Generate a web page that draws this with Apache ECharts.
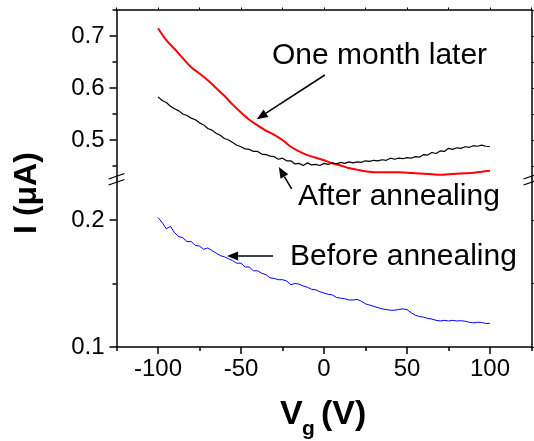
<!DOCTYPE html>
<html>
<head>
<meta charset="utf-8">
<script src="https://cdn.jsdelivr.net/npm/echarts@6/dist/echarts.min.js"></script>
<style>
  html, body { margin: 0; padding: 0; background: #fff; }
  #chart { width: 534px; height: 441px; }
</style>
</head>
<body>
<div id="chart"></div>
<script>
// gate voltage, V (step 2.5 for the noisy traces)
const vg = [-100, -97.5, -95, -92.5, -90, -87.5, -85, -82.5, -80, -77.5, -75, -72.5, -70, -67.5, -65, -62.5,
  -60, -57.5, -55, -52.5, -50, -47.5, -45, -42.5, -40, -37.5, -35, -32.5, -30, -27.5, -25, -22.5,
  -20, -17.5, -15, -12.5, -10, -7.5, -5, -2.5, 0, 2.5, 5, 7.5, 10, 12.5, 15, 17.5,
  20, 22.5, 25, 27.5, 30, 32.5, 35, 37.5, 40, 42.5, 45, 47.5, 50, 52.5, 55, 57.5,
  60, 62.5, 65, 67.5, 70, 72.5, 75, 77.5, 80, 82.5, 85, 87.5, 90, 92.5, 95, 97.5, 100]
// step 5 for the smooth red trace
const vgRed = [-100, -95, -90, -85, -80, -75, -70, -65, -60, -55, -50, -45, -40, -35, -30, -25,
  -20, -15, -10, -5, 0, 5, 10, 15, 20, 25, 30, 35, 40, 45, 50, 55, 60, 65, 70, 75, 80, 85, 90, 95, 100]

// current, uA
const oneMonthLater = [0.715, 0.692, 0.675, 0.657, 0.640, 0.628, 0.615, 0.600, 0.585, 0.568, 0.553, 0.539,
  0.528, 0.518, 0.510, 0.500, 0.487, 0.478, 0.471, 0.466, 0.461, 0.455, 0.451, 0.446, 0.443, 0.440,
  0.438, 0.438, 0.438, 0.438, 0.437, 0.436, 0.435, 0.434, 0.433, 0.434, 0.435, 0.436, 0.437, 0.439, 0.441]

const afterAnnealing = [0.583, 0.576, 0.572, 0.565, 0.560, 0.556, 0.550, 0.547, 0.542, 0.539, 0.533, 0.529,
  0.522, 0.519, 0.513, 0.509, 0.503, 0.500, 0.495, 0.490, 0.487, 0.483, 0.482, 0.478, 0.478, 0.473,
  0.472, 0.469, 0.468, 0.463, 0.465, 0.460, 0.460, 0.454, 0.455, 0.451, 0.456, 0.452, 0.453, 0.451,
  0.455, 0.453, 0.456, 0.454, 0.457, 0.455, 0.458, 0.456, 0.458, 0.457, 0.460, 0.459, 0.461, 0.460,
  0.462, 0.461, 0.465, 0.463, 0.465, 0.464, 0.466, 0.465, 0.468, 0.467, 0.472, 0.471, 0.476, 0.474,
  0.479, 0.478, 0.484, 0.482, 0.485, 0.484, 0.487, 0.486, 0.489, 0.488, 0.490, 0.488, 0.487]

const beforeAnnealing = [0.202, 0.198, 0.193, 0.195, 0.190, 0.187, 0.186, 0.183, 0.183, 0.180, 0.1795, 0.177,
  0.178, 0.176, 0.174, 0.172, 0.171, 0.1695, 0.168, 0.166, 0.166, 0.163, 0.163, 0.160, 0.160, 0.158,
  0.157, 0.1545, 0.154, 0.153, 0.153, 0.152, 0.149, 0.150, 0.1495, 0.148, 0.147, 0.1455, 0.145, 0.1435,
  0.1425, 0.1415, 0.141, 0.139, 0.1385, 0.138, 0.137, 0.137, 0.1375, 0.136, 0.134, 0.133, 0.132, 0.131,
  0.130, 0.1295, 0.129, 0.129, 0.1295, 0.130, 0.1295, 0.127, 0.125, 0.124, 0.1235, 0.1225, 0.122, 0.121,
  0.1205, 0.121, 0.1205, 0.121, 0.1205, 0.1207, 0.1203, 0.1195, 0.119, 0.1195, 0.1193, 0.1185, 0.1187]

// tick positions
const xMajor = [-100, -50, 0, 50, 100]
const xMinor = [-125, -75, -25, 25, 75, 125]
const xTop = [-125, -100, -75, -50, -25, 0, 25, 50, 75, 100, 125]
const yUpMajor = [0.5, 0.6, 0.7]
const yUpMinor = [0.45, 0.55, 0.65, 0.75]
const yLowMajor = [0.1, 0.2]
const yLowMinor = [0.15]

// annotation arrows in data coords: [from, to], series used for the coordinate system
const arrows = [
  { series: 0, from: [0.5, 0.625], to: [-40.5, 0.540] },
  { series: 0, from: [-19.5, 0.406], to: [-27.2, 0.448] },
  { series: 2, from: [-30.7, 0.1717], to: [-58.4, 0.1717] }
]

const FONT = "'Liberation Sans', Arial, sans-serif"
const upMin = 0.425, upMax = 0.75
const lowMin = 0.1, lowMax = 0.2323

const chart = echarts.init(document.getElementById('chart'))

const lineStyle = { color: '#000', width: 1.5 }

function axisBase(type, grid, pos, min, max) {
  return {
    type: 'value', gridIndex: grid, position: pos, min: min, max: max,
    splitLine: { show: false },
    axisLine: { show: true, onZero: false, lineStyle: lineStyle },
    axisTick: { show: false },
    axisLabel: { show: false }
  }
}

const option = {
  animation: false,
  backgroundColor: '#fff',
  grid: [
    { left: 116.5, right: 2.5, top: 10, height: 169 },
    { left: 116.5, right: 2.5, top: 179, height: 168 }
  ],
  xAxis: [
    Object.assign(axisBase('x', 1, 'bottom', -125, 125), {
      axisTick: { show: true, customValues: xMajor, length: 7, lineStyle: lineStyle },
      axisLabel: { show: true, customValues: xMajor, fontSize: 24, color: '#000', fontFamily: FONT, margin: 10 }
    }),
    Object.assign(axisBase('x', 1, 'bottom', -125, 125), {
      axisLine: { show: false, onZero: false },
      axisTick: { show: true, customValues: xMinor, length: 4, lineStyle: lineStyle }
    }),
    Object.assign(axisBase('x', 0, 'top', -125, 125), {
      axisTick: { show: true, customValues: xTop, length: 2.5, lineStyle: { color: '#000', width: 1 } }
    })
  ],
  yAxis: [
    Object.assign(axisBase('y', 0, 'left', upMin, upMax), {
      axisTick: { show: true, customValues: yUpMajor, length: 7, lineStyle: lineStyle },
      axisLabel: { show: true, customValues: yUpMajor, fontSize: 24, color: '#000', fontFamily: FONT, margin: 12,
        formatter: v => v.toFixed(1) }
    }),
    Object.assign(axisBase('y', 0, 'left', upMin, upMax), {
      axisLine: { show: false, onZero: false },
      axisTick: { show: true, customValues: yUpMinor, length: 4, lineStyle: lineStyle }
    }),
    Object.assign(axisBase('y', 0, 'right', upMin, upMax), {
      axisTick: { show: true, customValues: yUpMajor.concat(yUpMinor), length: 3, lineStyle: { color: '#000', width: 1 } }
    }),
    Object.assign(axisBase('y', 1, 'left', lowMin, lowMax), {
      axisTick: { show: true, customValues: yLowMajor, length: 7, lineStyle: lineStyle },
      axisLabel: { show: true, customValues: yLowMajor, fontSize: 24, color: '#000', fontFamily: FONT, margin: 12,
        formatter: v => v.toFixed(1) }
    }),
    Object.assign(axisBase('y', 1, 'left', lowMin, lowMax), {
      axisLine: { show: false, onZero: false },
      axisTick: { show: true, customValues: yLowMinor, length: 4, lineStyle: lineStyle }
    }),
    Object.assign(axisBase('y', 1, 'right', lowMin, lowMax), {
      axisTick: { show: true, customValues: yLowMajor.concat(yLowMinor), length: 3, lineStyle: { color: '#000', width: 1 } }
    })
  ],
  series: [
    {
      name: 'One month later', type: 'line', xAxisIndex: 2, yAxisIndex: 0,
      data: vgRed.map((x, i) => [x, oneMonthLater[i]]),
      showSymbol: false, smooth: 0.3,
      lineStyle: { color: '#ff0000', width: 2 }
    },
    {
      name: 'After annealing', type: 'line', xAxisIndex: 2, yAxisIndex: 0,
      data: vg.map((x, i) => [x, afterAnnealing[i]]),
      showSymbol: false,
      lineStyle: { color: '#000000', width: 1.2 }
    },
    {
      name: 'Before annealing', type: 'line', xAxisIndex: 0, yAxisIndex: 3,
      data: vg.map((x, i) => [x, beforeAnnealing[i]]),
      showSymbol: false,
      lineStyle: { color: '#0000ff', width: 1 }
    }
  ]
}

chart.setOption(option)

// texts, axis titles, axis break marks and arrows
const graphic = [
  { type: 'text', x: 27, y: 193, rotation: Math.PI / 2,
    style: { text: 'I (μA)', fontSize: 32, fontWeight: 'bold', fontFamily: FONT, fill: '#000', align: 'center', verticalAlign: 'middle' } },
  { type: 'text', x: 280, y: 415,
    style: { text: 'V', fontSize: 34, fontWeight: 'bold', fontFamily: FONT, fill: '#000', align: 'left', verticalAlign: 'middle' } },
  { type: 'text', x: 302, y: 429,
    style: { text: 'g', fontSize: 21, fontWeight: 'bold', fontFamily: FONT, fill: '#000', align: 'left', verticalAlign: 'middle' } },
  { type: 'text', x: 321, y: 415,
    style: { text: '(V)', fontSize: 34, fontWeight: 'bold', fontFamily: FONT, fill: '#000', align: 'left', verticalAlign: 'middle' } },
  { type: 'text', x: 272, y: 56,
    style: { text: 'One month later', fontSize: 30, fontFamily: FONT, fill: '#000', align: 'left', verticalAlign: 'middle' } },
  { type: 'text', x: 298, y: 197,
    style: { text: 'After annealing', fontSize: 30, fontFamily: FONT, fill: '#000', align: 'left', verticalAlign: 'middle' } },
  { type: 'text', x: 290, y: 257,
    style: { text: 'Before annealing', fontSize: 30, fontFamily: FONT, fill: '#000', align: 'left', verticalAlign: 'middle' } }
]

// axis break marks
;[116.5, 531.5].forEach(function (bx) {
  graphic.push({ type: 'rect', shape: { x: bx - 3, y: 177.5, width: 6, height: 4 }, style: { fill: '#fff' } })
  graphic.push({ type: 'line', shape: { x1: bx - 8, y1: 179, x2: bx + 8, y2: 173.5 }, style: { stroke: '#000', lineWidth: 1.3 } })
  graphic.push({ type: 'line', shape: { x1: bx - 8, y1: 185, x2: bx + 8, y2: 179.5 }, style: { stroke: '#000', lineWidth: 1.3 } })
})

arrows.forEach(function (a) {
  const p0 = chart.convertToPixel({ seriesIndex: a.series }, a.from)
  const p1 = chart.convertToPixel({ seriesIndex: a.series }, a.to)
  const dx = p1[0] - p0[0], dy = p1[1] - p0[1]
  const len = Math.sqrt(dx * dx + dy * dy)
  const ux = dx / len, uy = dy / len
  const hl = 11, hw = 4.5
  const bx = p1[0] - ux * hl, by = p1[1] - uy * hl
  graphic.push({ type: 'line', shape: { x1: p0[0], y1: p0[1], x2: bx, y2: by }, style: { stroke: '#000', lineWidth: 1.5 } })
  graphic.push({ type: 'polygon',
    shape: { points: [[p1[0], p1[1]], [bx - uy * hw, by + ux * hw], [bx + uy * hw, by - ux * hw]] },
    style: { fill: '#000' } })
})

chart.setOption({ graphic: graphic })
</script>
</body>
</html>
